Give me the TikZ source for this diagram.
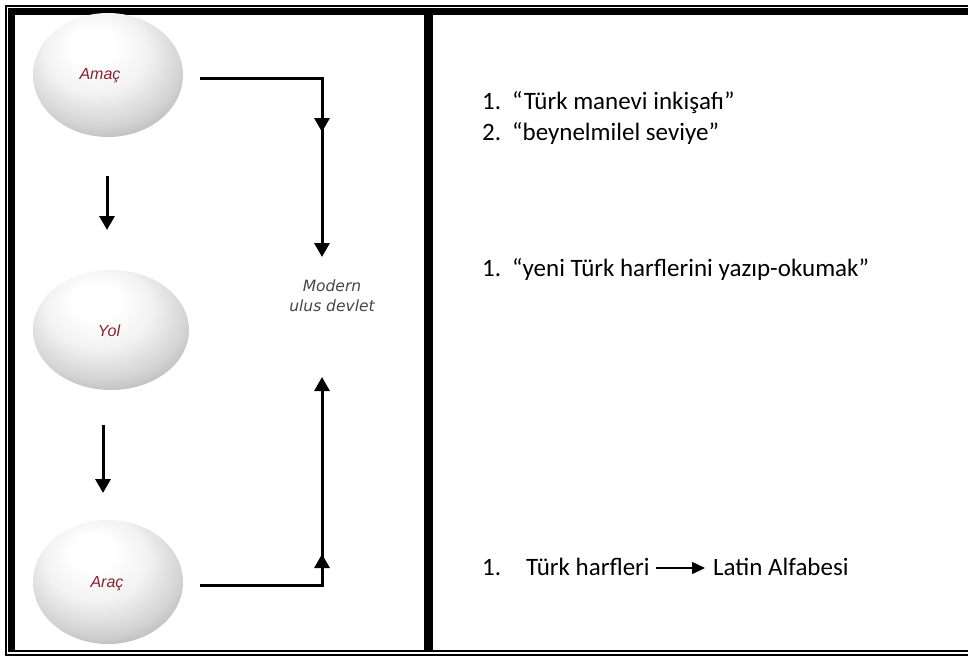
\documentclass[tikz,border=0pt]{standalone}
\usepackage{fontspec}
\setmainfont{Carlito}
\newfontfamily\bubfont{Liberation Sans}
\newfontfamily\modfont{DejaVu Sans}
\usetikzlibrary{arrows.meta,shapes.geometric}
\definecolor{bubred}{RGB}{140,32,48}
\definecolor{modgray}{RGB}{70,70,70}
\pgfdeclareradialshading{bubshade}{\pgfpoint{-6bp}{14bp}}{%
  color(0bp)=(white); color(7bp)=(white); color(17bp)=(black!5);
  color(27bp)=(black!17); color(35bp)=(black!32); color(43bp)=(black!48); color(50bp)=(black!62)}
\tikzset{
  bubble/.style={ellipse, shading=bubshade, minimum width=150pt, minimum height=124pt,
    inner sep=0pt},
  bublabel/.style={inner sep=0pt, font=\bubfont\itshape\fontsize{16}{19}\selectfont, text=bubred},
  conn/.style={line width=3pt},
  connarrow/.style={line width=3pt, -{Triangle[width=15pt,length=14pt]}},
  listtxt/.style={anchor=base west, inner sep=0pt, font=\fontsize{25}{30}\selectfont},
  modtxt/.style={inner sep=0pt, font=\modfont\itshape\fontsize{15.5}{18}\selectfont, text=modgray},
}
\begin{document}
\begin{tikzpicture}[x=1pt,y=-1pt]
\useasboundingbox (0,0) rectangle (968,657);
\fill[white] (0,0) rectangle (968,657);
% frame
\draw[line width=2pt] (5,5.5) -- (968,5.5);
\draw[line width=2pt] (5.5,5) -- (5.5,656);
\draw[line width=2pt] (5,655) -- (968,655);
\fill (8,8) rectangle (968,15);
\fill (8,8) rectangle (15,652);
\draw[line width=2pt] (8,651) -- (968,651);
\fill (424,8) rectangle (433,652);
% bubbles
\node[bubble] (amac) at (108,75) {};
\node[bubble, minimum width=156pt, minimum height=120pt] (yol) at (111,330) {};
\node[bubble] (arac) at (108,582) {};
\node[bublabel] (amacl) at (100,76) {Ama\c{c}};
\node[bublabel] (yoll) at (109,331) {Yol};
\node[bublabel] (aracl) at (107,584) {Ara\c{c}};
% modern text
\node[modtxt, align=center] (modern) at (332,296) {Modern\\[2pt]ulus devlet};
% left arrows
\coordinate (a1) at (107,176);
\coordinate (a2) at (107,230);
\coordinate (b1) at (103,425);
\coordinate (b2) at (103,493);
\draw[connarrow] (a1) -- (a2);
\draw[connarrow] (b1) -- (b2);
% top connector
\coordinate (t0) at (200,78);
\coordinate (tc) at (322,78);
\coordinate (tm) at (322,132);
\coordinate (tm2) at (322,120);
\coordinate (te) at (322,257);
\draw[conn] (t0) -- (tc) -- (322,121);
\draw[connarrow] (tc) -- (tm);
\draw[connarrow] (tm2) -- (te);
% bottom connector
\coordinate (u0) at (200,585);
\coordinate (uc) at (322,585);
\coordinate (um) at (322,554);
\coordinate (um2) at (322,566);
\coordinate (ue) at (322,377);
\draw[conn] (u0) -- (uc);
\draw[connarrow] (322,586.5) -- (um);
\draw[connarrow] (um2) -- (ue);
% right panel
\node[listtxt] (n1) at (482,109) {1.};
\node[listtxt] (t1) at (512,109) {“Türk manevi inkişafı”};
\node[listtxt] (n2) at (482,140) {2.};
\node[listtxt] (t2) at (512,140) {“beynelmilel seviye”};
\node[listtxt] (n3) at (482,276) {1.};
\node[listtxt] (t3) at (512,276) {“yeni Türk harflerini yazıp-okumak”};
\node[listtxt] (n4) at (482,575) {1.};
\node[listtxt] (t4) at (526,575) {Türk harfleri};
\node[listtxt] (t5) at (713,575) {Latin Alfabesi};
\draw[line width=1.5pt, -{Triangle[width=12pt,length=13pt]}] ([xshift=6pt]t4.east |- 0,568) -- ([xshift=-8pt]t5.west |- 0,568);
\end{tikzpicture}
\end{document}
